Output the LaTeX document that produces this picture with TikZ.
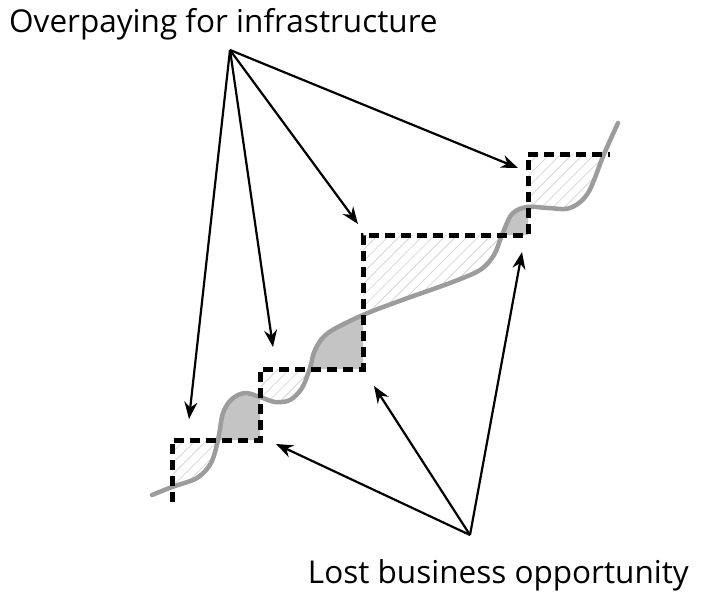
\documentclass[tikz,border=0pt]{standalone}
\usepackage{fontspec}
\setmainfont{Open Sans}
\usetikzlibrary{arrows.meta}
\usetikzlibrary{patterns.meta}

\definecolor{demandgray}{HTML}{9C9C9C}
\definecolor{lostgray}{HTML}{C4C4C4}
\definecolor{hatchgray}{HTML}{D6D6D6}

\tikzset{demandline/.style={insert path={-- plot[smooth,tension=0.55] coordinates {(152,495) (172,487) (197,478) (211,463) (218,440) (223,413) (232,399) (245,393) (260,397) (275,402) (290,400) (302,388) (310,368) (315,350) (328,333) (363,315) (405,299) (450,283) (480,270) (494,255) (502,235) (512,214) (527,207) (548,208) (570,208) (588,193) (604,154) (618,123)}}}}

\begin{document}
\begin{tikzpicture}[x=1pt,y=-1pt,
  capacity/.style={black,line width=5pt,dash pattern=on 10pt off 6pt},
  demand/.style={demandgray,line width=4.5pt,line cap=round},
  pointer/.style={black,line width=2.2pt,-{Stealth[length=17pt,width=13pt]}},
  label/.style={font=\fontsize{31.5}{38}\selectfont,inner sep=0pt}]

\useasboundingbox (0,0) rectangle (707,602);

\coordinate (S0) at (172,502);
\coordinate (S1) at (172,440);
\coordinate (S2) at (260,440);
\coordinate (S3) at (260,369);
\coordinate (S4) at (363,369);
\coordinate (S5) at (363,235);
\coordinate (S6) at (528,235);
\coordinate (S7) at (528,154);
\coordinate (S8) at (610,154);

\begin{scope}
\clip (S0) -- (S1) -- (S2) -- (S3) -- (S4) -- (S5) -- (S6) -- (S7) -- (S8) -- (610,560) -- (172,560) -- cycle;
\fill[pattern={Lines[angle=45,distance=8pt,line width=0.8pt]},pattern color=hatchgray] (152,60) [demandline] -- (618,60) -- cycle;
\end{scope}

\begin{scope}
\clip (S1) -- (S2) -- (S3) -- (S4) -- (S5) -- (S6) -- (528,60) -- (140,60) -- (140,440) -- cycle;
\fill[lostgray] (152,560) [demandline] -- (618,560) -- cycle;
\end{scope}

\draw[demand] (152,495) [demandline];
\draw[capacity] (S0) -- (S1) -- (S2) -- (S3) -- (S4) -- (S5) -- (S6) -- (S7) -- (S8);

\node[label,anchor=base west] (over) at (9,33) {Overpaying for infrastructure};
\node[label,anchor=base east] (lost) at (689,583) {Lost business opportunity};

\coordinate (O) at (230,50);
\coordinate (L) at (470,535);

\coordinate (O1) at (189,419);
\coordinate (O2) at (273,347);
\coordinate (O3) at (358,224);
\coordinate (O4) at (518,168);
\coordinate (L1) at (276,444);
\coordinate (L2) at (374,386);
\coordinate (L3) at (522,252);

\draw[pointer] (O) -- (O1);
\draw[pointer] (O) -- (O2);
\draw[pointer] (O) -- (O3);
\draw[pointer] (O) -- (O4);
\draw[pointer] (L) -- (L1);
\draw[pointer] (L) -- (L2);
\draw[pointer] (L) -- (L3);

\end{tikzpicture}
\end{document}
